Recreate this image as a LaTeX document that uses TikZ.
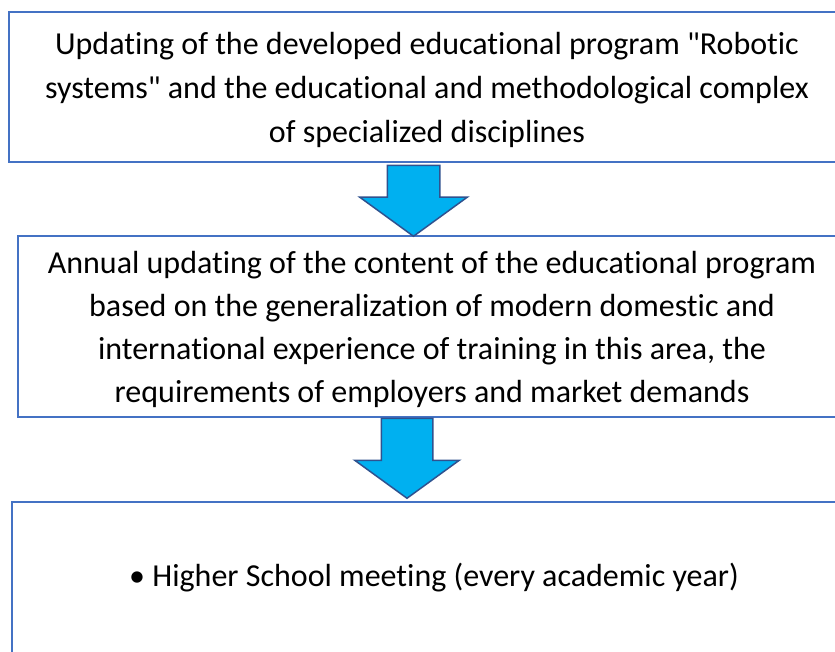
\documentclass[tikz,border=0pt]{standalone}
\usepackage{fontspec}
\setmainfont{Carlito}[Ligatures={TeXOff,NoCommon}]
\usetikzlibrary{shapes.arrows,calc}
\definecolor{boxblue}{HTML}{4472C4}
\definecolor{arrowfill}{HTML}{00B0F0}
\definecolor{arrowline}{HTML}{2F528F}

\begin{document}
\begin{tikzpicture}[x=1pt,y=-1pt,
    stage/.style={rectangle,draw=boxblue,line width=2pt,align=center,inner sep=0pt,
        font=\fontsize{32}{43}\selectfont},
    bigarrow/.style={single arrow,draw=arrowline,fill=arrowfill,line width=1.5pt,
        inner xsep=0pt,rotate=-90,single arrow tip angle=108,anchor=tail}]
        \useasboundingbox (0,0) rectangle (835,651);
        \clip (0,0) rectangle (835,651);

        \node[stage,minimum width=836pt,minimum height=150pt,text depth=0pt,
            font=\fontsize{32}{44}\selectfont] (update) at (427,87)
            {Updating of the developed educational program "Robotic\\
             systems" and the educational and methodological complex\\
             of specialized disciplines};
        \node[stage,minimum width=828pt,minimum height=181pt,text depth=0pt] (annual) at (432,326.5)
            {Annual updating of the content of the educational program\\
             based on the generalization of modern domestic and\\
             international experience of training in this area, the\\
             requirements of employers and market demands};
        \node[stage,minimum width=844pt,minimum height=152pt] (meeting) at (434,578)
            {\textbullet\ Higher School meeting (every academic year)};

        \node[bigarrow,minimum height=71pt,minimum width=106pt,inner ysep=25.5pt,
            single arrow head extend=27.5pt] (arrA) at ($(update.south)+(-13.5,1.5)$) {};
        \node[bigarrow,minimum height=80pt,minimum width=103pt,inner ysep=25pt,
            single arrow head extend=26.5pt] (arrB) at ($(annual.south)+(-25,-0.5)$) {};

    \end{tikzpicture}
\end{document}
